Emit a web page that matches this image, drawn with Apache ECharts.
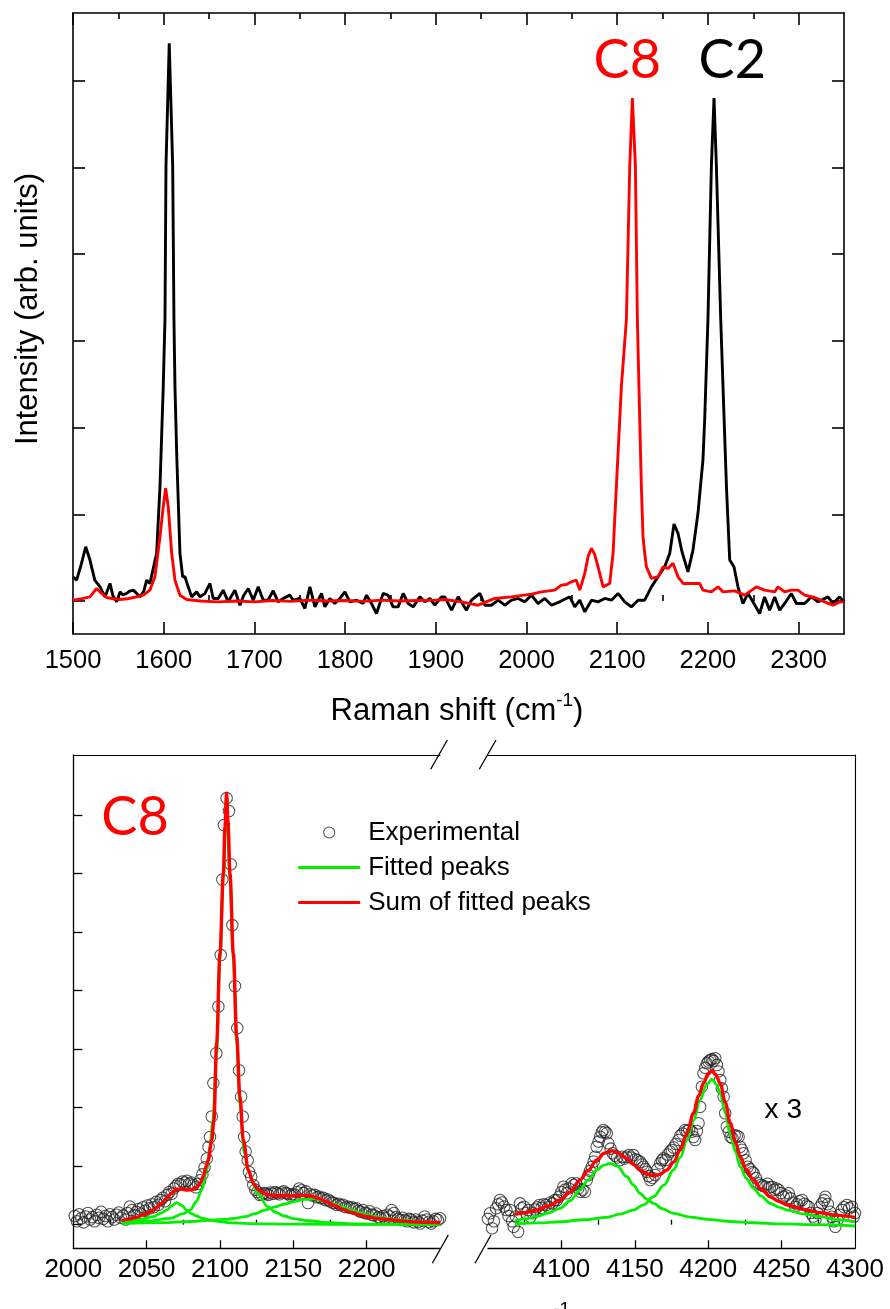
<!DOCTYPE html>
<html><head><meta charset="utf-8">
<script src="https://cdn.jsdelivr.net/npm/echarts@6/dist/echarts.min.js"></script>
<style>html,body{margin:0;padding:0;background:#fff}#c{width:890px;height:1309px}</style>
</head><body><div id="c"></div><script>
// ---------- DATA ----------
// Top panel: Raman spectra (x = Raman shift cm-1, y = intensity, arb. units)
const specC2 = [[1500,279],[1504,240],[1509,420],[1514,625],[1518.7,472],[1524,240],[1529.8,163],[1535.3,47],[1540.8,202],[1544,60],[1548.2,-10],[1551.8,105],[1555,70],[1559.2,87],[1562,110],[1566.4,125],[1570,90],[1573.8,47],[1578,110],[1581.2,240],[1584.8,202],[1588.5,376],[1592.2,549],[1595.9,1319],[1599.5,2475],[1601.4,3246],[1602.5,5018],[1606.1,6433],[1609.9,5018],[1611.3,3246],[1612.4,2475],[1614.3,1705],[1617.9,549],[1620.9,279],[1623.4,279],[1627,163],[1630.8,47],[1636.3,105],[1640,47],[1645.5,87],[1651,202],[1654.6,29],[1660.1,29],[1665.6,125],[1671.1,-10],[1678.5,125],[1684,-49],[1688,60],[1693.2,144],[1698.7,9],[1704.2,163],[1709.7,9],[1715,9],[1720.7,117],[1726.2,-10],[1731.7,29],[1739,67],[1742.7,9],[1750.1,29],[1755.6,-87],[1761.2,163],[1766.7,-68],[1774,87],[1777.7,-68],[1783.2,29],[1788.7,-29],[1794.2,29],[1799.8,105],[1805.2,-10],[1812.6,9],[1819.9,-29],[1823.6,67],[1829.1,-29],[1834.6,-145],[1841.9,87],[1847.4,67],[1852.9,-68],[1858.4,-68],[1864,87],[1869.5,-29],[1875,-68],[1882.4,47],[1887.9,-10],[1893.4,29],[1898.9,-49],[1906.2,47],[1909.9,47],[1917.3,-106],[1924.6,47],[1933.8,-106],[1939.3,9],[1948.5,87],[1954,-49],[1961.4,-49],[1968.7,9],[1976,-49],[1983.4,9],[1990.7,29],[1998.1,-10],[2005.4,67],[2012.7,-29],[2020.1,29],[2027.5,-49],[2036.6,-10],[2042,20],[2047.7,47],[2053.2,-68],[2058.7,9],[2064.2,-126],[2071.6,9],[2078.9,-10],[2086.2,29],[2093.6,9],[2100.9,87],[2108.3,-10],[2115.6,-68],[2123,9],[2130.3,9],[2137.7,163],[2145,279],[2152.3,394],[2157.9,549],[2162.6,888],[2167,780],[2171.4,568],[2178,336],[2183.5,587],[2189,1011],[2194.5,1628],[2196.4,2090],[2200,3246],[2203.8,5018],[2206.7,5800],[2209.3,5018],[2214.1,3246],[2216.6,2475],[2220.4,1319],[2224,472],[2228.7,394],[2233.1,163],[2238.6,-29],[2244.1,87],[2249.6,-10],[2257,-145],[2262.5,47],[2268,-106],[2273.6,47],[2279.1,-106],[2284.6,-29],[2291.9,87],[2297.5,-29],[2306.6,-29],[2314,47],[2321.3,-10],[2332.3,47],[2337.8,-29],[2345.2,47],[2350,-10]];
const specC8 = [[1500,9],[1511.3,29],[1518.7,47],[1522,90],[1526.1,144],[1531.6,87],[1537.1,40],[1545,25],[1551.8,17],[1560,25],[1566.4,40],[1572,50],[1577.5,67],[1584.8,125],[1590.3,279],[1595.9,741],[1599.5,1088],[1602.1,1300],[1605,1088],[1608.8,549],[1612.4,240],[1617.9,67],[1625.3,17],[1640,0],[1660,-10],[1680,0],[1700,-10],[1720,5],[1740,-5],[1760,10],[1780,0],[1800,5],[1820,-5],[1840,10],[1860,0],[1880,5],[1900,10],[1910,17],[1928.3,-10],[1946.6,-49],[1965,29],[1983.4,47],[2005.4,79],[2016.4,105],[2031.1,125],[2038.4,183],[2044,190],[2049.4,221],[2054.9,240],[2058.7,125],[2064.2,318],[2068,520],[2071.6,607],[2075,540],[2078.9,394],[2084.4,163],[2091.7,202],[2095.4,549],[2097.2,934],[2100.9,1705],[2104.6,2475],[2110.1,3246],[2113.8,5018],[2116.7,5800],[2120,5018],[2122.2,3246],[2124.8,2090],[2126.6,1319],[2128.4,741],[2130.3,549],[2132.2,394],[2137.7,260],[2145,279],[2150.5,394],[2156,376],[2161.5,434],[2167,279],[2172.6,202],[2181.7,202],[2190.9,202],[2194.5,125],[2203.8,105],[2211.1,163],[2216.6,105],[2229.5,117],[2240.5,67],[2253.4,163],[2262.5,125],[2273.6,105],[2277.2,163],[2284.6,105],[2291.9,125],[2299.2,125],[2306.6,67],[2317.6,40],[2328.6,-10],[2337.8,-49],[2345.2,-10],[2350,-10]];

// Bottom panel, left segment (2000-2250 cm-1)
const expLeft = [[2001,150],[2002.5,60],[2004,180],[2005.5,110],[2007,40],[2008.5,140],[2010,200],[2011.5,90],[2013,130],[2014.5,60],[2016,170],[2017.5,120],[2019,220],[2020.5,100],[2022,150],[2023.5,60],[2025,180],[2026.5,130],[2028,90],[2029.5,170],[2031,210],[2032.5,120],[2034,160],[2035.5,90],[2037,200],[2038.5,310],[2040,250],[2041.5,160],[2043,220],[2044.5,270],[2046,190],[2047.5,300],[2049,240],[2050.5,330],[2052,280],[2053.5,350],[2055,300],[2056.5,390],[2058,340],[2059.5,420],[2061,460],[2062.5,400],[2064,510],[2065.5,560],[2067,530],[2068.5,620],[2070,660],[2071.5,700],[2073,690],[2074.5,740],[2076,720],[2077.5,750],[2079,700],[2080.5,720],[2082,680],[2083.5,640],[2085,700],[2086.5,760],[2088,860],[2089.5,980],[2091,1130],[2092.2,1330],[2093.2,1500],[2094.4,1850],[2095.5,2420],[2097.5,2930],[2098.9,3730],[2100.5,4610],[2101.6,5900],[2102.7,6830],[2104.5,7290],[2106.1,7070],[2107.3,6160],[2108.4,5120],[2110.2,4080],[2111.8,3360],[2113,2640],[2114.4,2190],[2115.5,1850],[2116.5,1500],[2117.5,1250],[2118.9,1100],[2119.8,900],[2121.3,820],[2122.7,680],[2124,600],[2125.5,560],[2127,510],[2128.5,520],[2130,540],[2131.5,530],[2133,510],[2134.5,550],[2136,530],[2137.5,560],[2139,540],[2140.5,520],[2142,550],[2143.5,570],[2145,540],[2146.5,530],[2148,500],[2149.5,520],[2151,510],[2152.5,560],[2154,620],[2155.5,590],[2157,540],[2158.5,570],[2160,370],[2161.5,520],[2163,500],[2164.5,510],[2166,470],[2167.5,480],[2169,450],[2170.5,460],[2172,420],[2173.5,430],[2175,400],[2176.5,380],[2178,370],[2179.5,340],[2181,360],[2182.5,330],[2184,340],[2185.5,300],[2187,310],[2188.5,290],[2190,300],[2191.5,270],[2193,280],[2194.5,240],[2196,220],[2197.5,250],[2199,200],[2200.5,190],[2202,230],[2203.5,170],[2205,160],[2206.5,190],[2208,130],[2209.5,110],[2211,150],[2212.5,120],[2214,170],[2215.5,140],[2217,250],[2218.5,200],[2220,130],[2221.5,100],[2223,80],[2224.5,120],[2226,80],[2227.5,60],[2229,100],[2230.5,80],[2232,40],[2233.5,90],[2235,50],[2236.5,20],[2238,70],[2239.5,140],[2241,90],[2242.5,50],[2244,20],[2245.5,60],[2247,100],[2248.5,80],[2250,110]];
const fitLeftPeak1 = [[2033,51],[2045,90],[2054.6,137],[2060,200],[2063.7,251],[2067,320],[2070.5,376],[2074,330],[2077.3,251],[2080.5,190],[2084.1,149],[2088,110],[2093.2,80],[2100,55],[2106.8,34],[2120,20],[2150,10],[2200,5],[2250,3]];
const fitLeftPeak2 = [[2033,24],[2050,60],[2066,109],[2075,190],[2079.7,251],[2084,400],[2087.6,593],[2091,935],[2093.2,1333],[2095,1750],[2097.7,2900],[2100,4550],[2102.3,5930],[2104.5,7300],[2106.8,5930],[2109.1,4550],[2111.4,3120],[2113.6,2050],[2116.6,1220],[2120,878],[2125.7,537],[2132.5,308],[2138,210],[2143.9,149],[2150,105],[2159.7,68],[2175,35],[2193.8,12],[2220,10],[2250,12]];
const fitLeftPeak3 = [[2033,20],[2060,35],[2080,55],[2095,78],[2103.4,92],[2110,110],[2117,137],[2124,190],[2130.7,251],[2137,300],[2144.3,354],[2151,400],[2158,434],[2164.8,444],[2170,410],[2176.1,365],[2183,310],[2189.8,251],[2197,190],[2205.7,137],[2215,100],[2228.4,68],[2240,48],[2250,34]];
const fitLeftSum = [[2033,68],[2038,95],[2043,126],[2048,170],[2054.6,251],[2060,360],[2063.7,451],[2067,540],[2070.5,605],[2074,610],[2077.3,593],[2081,600],[2084.1,639],[2086.5,710],[2088.6,820],[2090.5,990],[2092,1106],[2094.4,1448],[2095.9,1790],[2097.7,3100],[2100,4638],[2102.3,6005],[2103.4,6800],[2104.5,7373],[2105.6,6800],[2106.8,6005],[2109.1,4638],[2111.4,3213],[2113.6,2188],[2115.9,1448],[2119.3,935],[2122.7,707],[2126,600],[2129.5,537],[2134,510],[2138.6,496],[2144,495],[2150,496],[2155,500],[2161.4,496],[2167,450],[2172.7,393],[2178,330],[2184,263],[2190,210],[2195.4,166],[2200,140],[2206.8,109],[2212,95],[2218.2,80],[2224,65],[2229.6,51],[2240,42],[2250,34]];

// Bottom panel, right segment (4050-4300 cm-1, shown x 3)
const expRight = [[4050,100],[4051.4,195],[4052.8,-60],[4054,60],[4055.5,280],[4057,350],[4058.2,422],[4059.5,380],[4061,310],[4062.5,250],[4064,150],[4065,251],[4066.5,60],[4067.5,-34],[4069,140],[4070.5,-120],[4071.8,365],[4073,280],[4074.5,308],[4076,200],[4077.5,250],[4079,137],[4080.5,195],[4082,260],[4083.5,300],[4085,337],[4086.5,290],[4088,350],[4089.5,337],[4091,300],[4092.5,380],[4094,365],[4095.5,420],[4097,422],[4098.5,480],[4100,560],[4101.4,650],[4102.5,600],[4103.6,537],[4105,620],[4107,707],[4108.5,680],[4110,707],[4111.5,620],[4113,564],[4114.5,600],[4116,564],[4117.3,764],[4118.5,850],[4119.5,920],[4120.7,991],[4122,1080],[4123,1162],[4124,1333],[4125.3,1420],[4126.4,1504],[4127.5,1580],[4128.6,1618],[4129.8,1590],[4130.9,1562],[4132,1391],[4133.5,1300],[4135,1220],[4136.5,1180],[4138,1150],[4140,1106],[4141.5,1160],[4143,1130],[4144.6,1162],[4146,1190],[4147.5,1150],[4149,1191],[4150.5,1120],[4152,1100],[4153.6,1077],[4155,1030],[4156,991],[4157.2,950],[4158.2,906],[4159.5,830],[4160.5,764],[4162,800],[4163.9,849],[4165.5,950],[4167.3,1049],[4168.5,1100],[4169.5,1134],[4171,1106],[4172.5,1200],[4174,1250],[4175.2,1277],[4176.5,1320],[4178,1380],[4179.8,1448],[4181,1520],[4182.5,1560],[4184.3,1618],[4185.5,1600],[4187,1620],[4188.9,1590],[4190,1500],[4191.1,1448],[4192.3,1600],[4193.4,1733],[4194.5,2017],[4195.7,2359],[4196.8,2587],[4198,2680],[4199.1,2758],[4200.2,2790],[4201.4,2815],[4202.5,2830],[4203.6,2800],[4204.8,2844],[4205.9,2729],[4207,2620],[4208.2,2473],[4209.3,2330],[4210.5,2188],[4211.6,1904],[4212.7,1675],[4214,1590],[4215.2,1504],[4216.5,1480],[4218,1530],[4219.5,1520],[4220.7,1504],[4221.8,1333],[4223,1280],[4224,1220],[4225.5,1100],[4227,991],[4228.5,950],[4230,900],[4231,878],[4232.5,800],[4234.3,707],[4236,680],[4237.5,660],[4239,650],[4240.5,700],[4242,640],[4243.4,650],[4245,600],[4246.5,620],[4248,593],[4249.5,540],[4251.4,479],[4253,500],[4254.8,537],[4256,450],[4257.5,380],[4259.3,308],[4260.5,350],[4262,400],[4263.9,422],[4265.5,360],[4267,330],[4268.4,308],[4270,200],[4271.5,140],[4273,80],[4274.5,200],[4276,300],[4277.5,365],[4279,420],[4279.8,479],[4281.5,350],[4283,220],[4284.3,137],[4285.5,60],[4286.6,-34],[4288,80],[4289.5,170],[4291.1,251],[4292.5,300],[4294.5,337],[4296,280],[4298,308],[4299.1,137],[4300,200]];
const fitRightPeakA = [[4068.4,68],[4076,100],[4083.2,137],[4091,200],[4099.1,280],[4106,410],[4112.7,593],[4118,760],[4124.1,935],[4129,1020],[4133.5,1049],[4138,1000],[4144.6,820],[4149,680],[4153.6,537],[4158,440],[4162.7,365],[4169,270],[4176.3,195],[4188,130],[4199.1,92],[4215,55],[4230.9,34],[4250,15],[4275,0],[4300,-22]];
const fitRightPeakB = [[4068.4,12],[4085,30],[4099.1,51],[4115,85],[4130.9,126],[4140,180],[4149.1,251],[4156,340],[4162.7,479],[4170,680],[4176.3,935],[4181,1150],[4185.5,1448],[4190,1780],[4194.5,2131],[4198.5,2380],[4202.5,2485],[4205.5,2400],[4208.2,2245],[4211.5,1920],[4215,1562],[4218.5,1250],[4221.8,991],[4226,790],[4230.9,622],[4236,490],[4242.3,365],[4248,300],[4253.7,251],[4265,185],[4276.4,137],[4288,85],[4300,51]];
const fitRightSum = [[4068.4,177],[4076,210],[4083.2,251],[4091,320],[4099.1,422],[4106,560],[4112.7,764],[4118,920],[4124.1,1106],[4129,1220],[4134.3,1265],[4139,1220],[4144.6,1134],[4149,1030],[4153.6,935],[4158,870],[4162.7,838],[4167,860],[4171.8,935],[4176.5,1070],[4180.9,1277],[4185.5,1560],[4190,1904],[4193.5,2200],[4196.8,2417],[4200,2580],[4202.5,2632],[4205,2570],[4208.2,2417],[4211.5,2100],[4215,1733],[4218.5,1420],[4221.8,1162],[4226,940],[4230.9,764],[4236,610],[4242.3,479],[4248,400],[4253.7,337],[4265,260],[4276.4,205],[4288,160],[4300,126]];

// Tick values / labels
const topXLabels = [1500,1600,1700,1800,1900,2000,2100,2200,2300];
const topXMinor = [1550,1650,1750,1850,1950,2050,2150,2250];
const topYTicks = [0,1000,2000,3000,4000,5000,6000];
const botLeftLabels = [2000,2050,2100,2150,2200];
const botLeftTicks = [2050,2100,2150,2200];
const botLeftMinor = [2025,2075,2125,2175,2225];
const botRightLabels = [4100,4150,4200,4250,4300];
const botRightTicks = [4100,4150,4200,4250];
const botRightMinor = [4075,4125,4175,4225,4275];
const botYTicks = [0,1000,2000,3000,4000,5000,6000,7000];
const legendNames = ['Experimental','Fitted peaks','Sum of fitted peaks'];

// ---------- CHART ----------
const FONT = '"Liberation Sans", Arial, sans-serif';
const TOPR = {min:-381, max:6782};
const BOTR = {min:-403, max:8027};
const off = {show:false};
const GREEN = '#00f000', RED = '#ff0000';

function xAx(o){
  return Object.assign({type:'value', splitLine:off, axisLine:{show:true,onZero:false,lineStyle:{color:'#000',width:1.6}}, axisTick:off, axisLabel:off}, o);
}
function yAx(o){
  return Object.assign({type:'value', splitLine:off, axisLine:{show:true,onZero:false,lineStyle:{color:'#000',width:1.6}}, axisTick:off, axisLabel:off}, o);
}
function ticks(vals, len, w){ return {show:true, inside:true, length:len, customValues:vals, lineStyle:{color:'#000', width:w}}; }
function labels(vals, size, margin){ return {show:true, customValues:vals, fontSize:size, color:'#000', fontFamily:FONT, margin:margin, formatter:function(v){return String(v);}}; }

const gTop = {left:73, top:13, width:771, height:621};
const gBL = {left:73.3, top:755, width:366.7, height:493.3};
const gBR = {left:488, top:755, width:367, height:493.3};
const thinLine = {show:true,onZero:false,lineStyle:{color:'#000',width:1.3}};
const topLine = {show:true,onZero:false,lineStyle:{color:'#000',width:1.1}};
const expStyle = {color:'rgba(255,255,255,0)', borderColor:'#262626', borderWidth:1.05};
const noSym = {color:'rgba(0,0,0,0)', borderColor:'rgba(0,0,0,0)', borderWidth:0};

function fitLine(name, xi, yi, data, color, width){
  return {name:name, type:'line', xAxisIndex:xi, yAxisIndex:yi, data:data, symbol:'none', showSymbol:false, smooth:0.35, smoothMonotone:'x', lineStyle:{color:color, width:width}, itemStyle:{color:color}};
}

const option = {
  animation:false,
  backgroundColor:'#fff',
  grid:[gTop, gTop, gBL, gBL, gBR, gBR],
  xAxis:[
    xAx({gridIndex:0, position:'bottom', min:1500, max:2350, axisTick:ticks(topXLabels,12,1.6), axisLabel:labels(topXLabels,25.5,14)}),
    xAx({gridIndex:0, position:'top', min:1500, max:2350, axisTick:ticks(topXLabels,12,1.6)}),
    xAx({gridIndex:1, position:'bottom', min:1500, max:2350, axisLine:off, axisTick:ticks(topXMinor,6,1.6)}),
    xAx({gridIndex:1, position:'top', min:1500, max:2350, axisLine:off, axisTick:ticks(topXMinor,6,1.6)}),
    xAx({gridIndex:2, position:'bottom', min:2000, max:2250, axisLine:thinLine, axisTick:ticks(botLeftTicks,8,1.3), axisLabel:labels(botLeftLabels,26,9)}),
    xAx({gridIndex:2, position:'top', min:2000, max:2250, axisLine:topLine}),
    xAx({gridIndex:3, position:'bottom', min:2000, max:2250, axisLine:off, axisTick:ticks(botLeftMinor,5,1.3)}),
    xAx({gridIndex:4, position:'bottom', min:4050, max:4300, axisLine:thinLine, axisTick:ticks(botRightTicks,8,1.3), axisLabel:labels(botRightLabels,26,9)}),
    xAx({gridIndex:4, position:'top', min:4050, max:4300, axisLine:topLine}),
    xAx({gridIndex:5, position:'bottom', min:4050, max:4300, axisLine:off, axisTick:ticks(botRightMinor,5,1.3)})
  ],
  yAxis:[
    yAx(Object.assign({gridIndex:0, position:'left', axisTick:ticks(topYTicks,12,1.6)}, TOPR)),
    yAx(Object.assign({gridIndex:0, position:'right', axisTick:ticks(topYTicks,12,1.6)}, TOPR)),
    yAx(Object.assign({gridIndex:1, show:false}, TOPR)),
    yAx(Object.assign({gridIndex:2, position:'left', axisLine:thinLine, axisTick:ticks(botYTicks,9,1.3)}, BOTR)),
    yAx(Object.assign({gridIndex:3, show:false}, BOTR)),
    yAx(Object.assign({gridIndex:4, position:'right', axisLine:topLine}, BOTR)),
    yAx(Object.assign({gridIndex:5, show:false}, BOTR))
  ],
  legend:{
    data:[
      {name:legendNames[0], icon:'circle', itemStyle:expStyle},
      {name:legendNames[1], itemStyle:noSym, lineStyle:{color:GREEN, width:3}},
      {name:legendNames[2], itemStyle:noSym, lineStyle:{color:RED, width:3}}
    ],
    orient:'vertical', left:296.7, top:819.5, padding:0,
    itemWidth:62, itemHeight:11, itemGap:9, selectedMode:false,
    textStyle:{fontSize:26, fontFamily:FONT, color:'#000', padding:[0,0,0,3]}
  },
  series:[
    {name:'C2', type:'line', xAxisIndex:0, yAxisIndex:0, data:specC2, symbol:'none', lineStyle:{color:'#000', width:2.9}, itemStyle:{color:'#000'}},
    {name:'C8', type:'line', xAxisIndex:0, yAxisIndex:0, data:specC8, symbol:'none', lineStyle:{color:RED, width:2.9}, itemStyle:{color:RED}},

    {name:'Experimental', type:'scatter', xAxisIndex:4, yAxisIndex:3, data:expLeft, symbol:'circle', symbolSize:11.5, itemStyle:expStyle},
    fitLine('Fitted peaks', 4, 3, fitLeftPeak1, GREEN, 2.8),
    fitLine('Fitted peaks', 4, 3, fitLeftPeak2, GREEN, 2.8),
    fitLine('Fitted peaks', 4, 3, fitLeftPeak3, GREEN, 2.8),
    fitLine('Sum of fitted peaks', 4, 3, fitLeftSum, RED, 3.4),

    {name:'Experimental', type:'scatter', xAxisIndex:7, yAxisIndex:5, data:expRight, symbol:'circle', symbolSize:11.5, itemStyle:expStyle},
    fitLine('Fitted peaks', 7, 5, fitRightPeakA, GREEN, 2.8),
    fitLine('Fitted peaks', 7, 5, fitRightPeakB, GREEN, 2.8),
    fitLine('Sum of fitted peaks', 7, 5, fitRightSum, RED, 3.4)
  ],
  graphic:[
    {type:'text', x:28, y:309, rotation:Math.PI/2, style:{text:'Intensity (arb. units)', fontSize:31, fontFamily:FONT, fill:'#000', align:'center', verticalAlign:'middle'}},
    {type:'text', x:457, y:711, style:{text:'{a|Raman shift (cm}{s|-1}{a|)}', align:'center', verticalAlign:'middle',
      rich:{a:{fontSize:31, lineHeight:40, fontFamily:FONT, fill:'#000'}, s:{fontSize:19, lineHeight:19, verticalAlign:'top', fontFamily:FONT, fill:'#000'}}}},
    {type:'text', x:454, y:1326, style:{text:'{a|Raman shift (cm}{s|-1}{a|)}', align:'center', verticalAlign:'middle',
      rich:{a:{fontSize:31, lineHeight:52, fontFamily:FONT, fill:'#000'}, s:{fontSize:19, lineHeight:19, verticalAlign:'top', fontFamily:FONT, fill:'#000'}}}},
    {type:'text', x:627.3, y:61, style:{text:'C8', fontSize:54, fontFamily:'Lato, "Open Sans", sans-serif', fill:RED, align:'center', verticalAlign:'middle'}},
    {type:'text', x:732.3, y:61, style:{text:'C2', fontSize:54, fontFamily:'Lato, "Open Sans", sans-serif', fill:'#000', align:'center', verticalAlign:'middle'}},
    {type:'text', x:135, y:818, style:{text:'C8', fontSize:54, fontFamily:'Lato, "Open Sans", sans-serif', fill:RED, align:'center', verticalAlign:'middle'}},
    {type:'text', x:783.3, y:1110, style:{text:'x 3', fontSize:28, fontFamily:FONT, fill:'#000', align:'center', verticalAlign:'middle'}},
    {type:'line', shape:{x1:430.7,y1:769.3,x2:447.3,y2:740}, style:{stroke:'#000', lineWidth:1.3}},
    {type:'line', shape:{x1:479.3,y1:769.3,x2:496,y2:740}, style:{stroke:'#000', lineWidth:1.3}},
    {type:'line', shape:{x1:432.3,y1:1263.3,x2:448.3,y2:1235}, style:{stroke:'#000', lineWidth:1.3}},
    {type:'line', shape:{x1:475,y1:1263.3,x2:491,y2:1235}, style:{stroke:'#000', lineWidth:1.3}}
  ]
};
const chart = echarts.init(document.getElementById('c'), null, {renderer:'canvas'});
chart.setOption(option);
</script></body></html>
